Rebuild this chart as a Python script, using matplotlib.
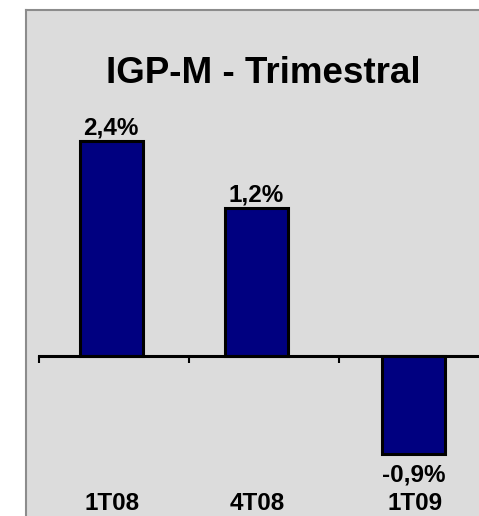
import matplotlib
matplotlib.use("Agg")
from matplotlib import pyplot as plt
from matplotlib.patches import Rectangle

# data
quarters = ["1T08", "4T08", "1T09"]
values = [2.4, 1.2, -0.9]            # printed data labels (%)
bar_heights = [2.4, 1.65, -1.09]     # drawn heights, same scale as the 2.4 bar
title = "IGP-M - Trimestral"

W, H = 479, 516
fig = plt.figure(figsize=(W / 100, H / 100), dpi=100)
fig.patch.set_facecolor("white")

# grey chart area with a grey frame on the left and top
fig.patches.append(Rectangle((26 / W, 0), 1 - 26 / W, 1 - 10 / H, transform=fig.transFigure,
                             facecolor="#dcdcdc", edgecolor="none", zorder=-5))
fig.add_artist(plt.Line2D([26 / W, 26 / W], [0, 1 - 10 / H], color="#8c8c8c", lw=1.5, zorder=-4))
fig.add_artist(plt.Line2D([26 / W, 1], [1 - 10 / H, 1 - 10 / H], color="#8c8c8c", lw=1.5, zorder=-4))

px = 89.6  # pixels per unit
ax = fig.add_axes([39 / W, 0, 450 / W, 1])
ax.set_facecolor("none")
ax.patch.set_alpha(0)
ax.set_xlim(0, 3)
ax.set_ylim(-(H - 356) / px, 356 / px)

# bars sit slightly off the category centres in the original
shift = [-0.02, -0.053, -0.003]
xs = [i + 0.5 + s for i, s in enumerate(shift)]
ax.bar(xs, bar_heights, width=0.42, color="#000080", edgecolor="black", linewidth=2.2, zorder=2)

for sp in ["top", "left", "right"]:
    ax.spines[sp].set_visible(False)
ax.spines["bottom"].set_position(("data", 0))
ax.spines["bottom"].set_linewidth(2.2)
ax.spines["bottom"].set_zorder(3)
ax.set_yticks([])
ax.set_xticks([0, 1, 2])
ax.set_xticklabels([])
ax.tick_params(axis="x", direction="out", length=5, width=1.5, color="black")

font = dict(family=["Liberation Sans", "DejaVu Sans"], weight="bold", color="black")

for x, h, v in zip(xs, bar_heights, values):
    lab = ("%.1f%%" % v).replace(".", ",")
    if h >= 0:
        ax.annotate(lab, (x, h), xytext=(0, 5), textcoords="offset points",
                    ha="center", va="baseline", fontsize=17.5, **font)
    else:
        ax.annotate(lab, (x, h), xytext=(0, -7), textcoords="offset points",
                    ha="center", va="top", fontsize=17.5, **font)

for x, q in zip(xs, quarters):
    ax.text(x + 0.01, 1 / H, q, transform=ax.get_xaxis_transform(), ha="center", va="bottom",
            fontsize=17.5, **font)

fig.text(263 / W, 1 - 83 / H, title, ha="center", va="baseline", fontsize=26.5, **font)

fig.savefig("out.png", dpi=100)
